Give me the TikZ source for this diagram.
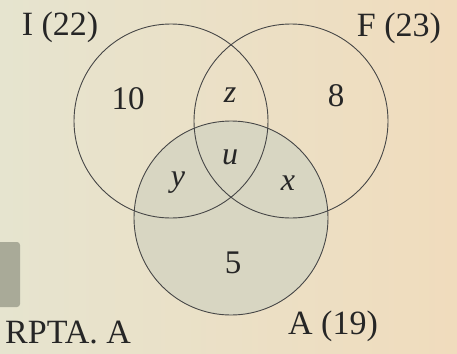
\documentclass[tikz,border=0pt]{standalone}
\usepackage{fontspec}
\setmainfont{Liberation Serif}
\begin{document}
\begin{tikzpicture}[x=1pt,y=-1pt,
  setcirc/.style={draw=black!72, line width=0.9pt},
  lab/.style={font=\fontsize{34}{34}\selectfont, text=black!85, inner sep=0pt},
  num/.style={font=\fontsize{33}{33}\selectfont, text=black!85, inner sep=0pt},
  var/.style={font=\fontsize{32}{32}\selectfont\itshape, text=black!85, inner sep=0pt}]
\definecolor{bgl}{HTML}{E6E4CF}
\definecolor{bgr}{HTML}{F0DCBD}
\definecolor{afill}{HTML}{D8D6C2}
\definecolor{barc}{HTML}{A9AA98}
\useasboundingbox (0,0) rectangle (457,353);
\shade[left color=bgl, right color=bgr] (0,0) rectangle (457,353);
\fill[barc, rounded corners=3pt] (-5,242) rectangle (20,307);
\fill[afill] (231,218) circle[radius=97];
\draw[setcirc] (171,121) circle[radius=97];
\draw[setcirc] (291,121) circle[radius=97];
\draw[setcirc] (231,218) circle[radius=97];
\node[lab] (li) at (60,27) {I (22)};
\node[lab] (lf) at (399,28) {F (23)};
\node[lab] (la) at (333,326) {A (19)};
\node[lab, anchor=base west, font=\fontsize{34}{34}\selectfont] (rp) at (5,343) {RPTA. A};
\node[num] (n10) at (128,99) {10};
\node[num] (n8) at (336,96) {8};
\node[num] (n5) at (233,263) {5};
\node[var] (vz) at (230,95) {z};
\node[var] (vu) at (230,157) {u};
\node[var] (vy) at (178,183) {y};
\node[var] (vx) at (288,183) {x};
\end{tikzpicture}
\end{document}
